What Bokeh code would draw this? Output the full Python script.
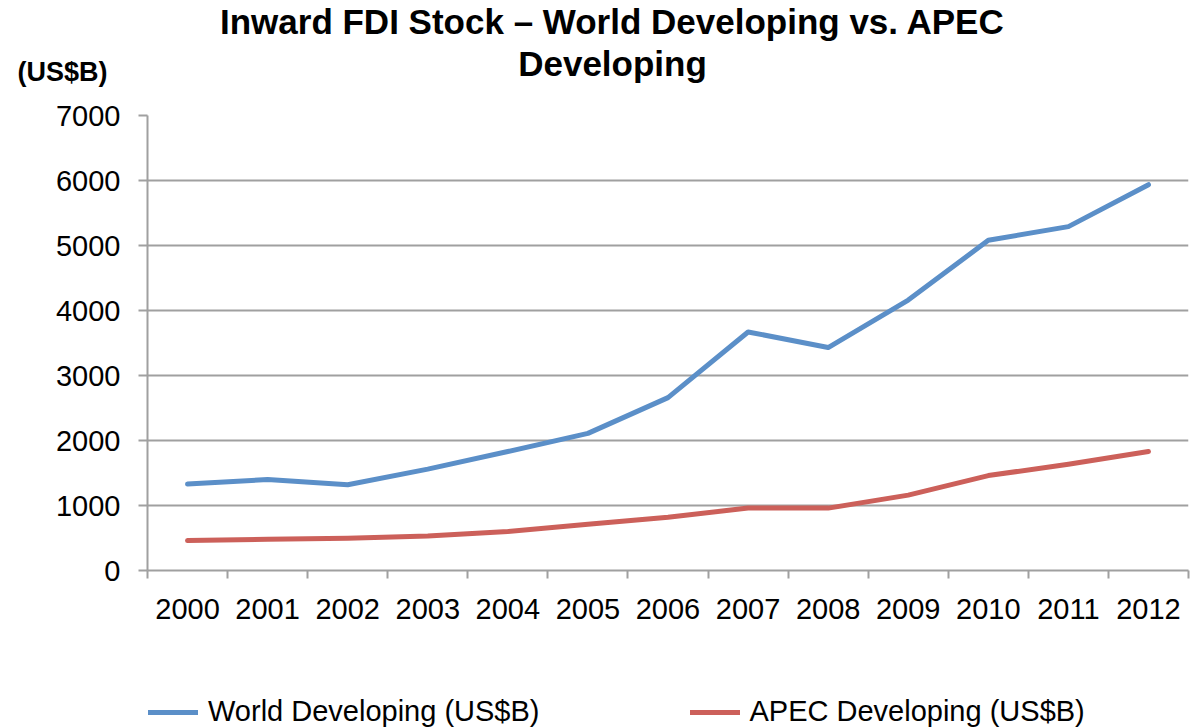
from bokeh.plotting import figure
from bokeh.layouts import column
from bokeh.models import Range1d, FixedTicker, Label, Legend, LegendItem, ColumnDataSource
from bokeh.embed import file_html
from bokeh.resources import INLINE

years = [2000, 2001, 2002, 2003, 2004, 2005, 2006, 2007, 2008, 2009, 2010, 2011, 2012]
world_developing = [1330, 1400, 1320, 1560, 1830, 2110, 2660, 3670, 3430, 4160, 5080, 5290, 5935]
apec_developing = [460, 480, 495, 530, 600, 710, 820, 960, 960, 1160, 1460, 1635, 1830]
y_ticks = [0, 1000, 2000, 3000, 4000, 5000, 6000, 7000]

title_lines = ["Inward FDI Stock \u2013 World Developing vs. APEC", "Developing"]
unit_label = "(US$B)"
series_names = ["World Developing (US$B)", "APEC Developing (US$B)"]
colors = ["#5B8FC8", "#CC605A"]

FONT = "Liberation Sans"
GRID = "#a0a0a0"
W = 1194
TOP_H, MAIN_H, BOT_H = 95, 588, 45


def blank(height, y_range):
    f = figure(width=W, height=height, x_range=Range1d(0, W), y_range=y_range,
               x_axis_type=None, y_axis_type=None, min_border=0,
               output_backend="svg", toolbar_location=None)
    f.frame_align = False
    f.outline_line_color = None
    f.grid.grid_line_color = None
    f.background_fill_color = "white"
    f.border_fill_color = "white"
    return f


# ---- title strip (y measured downward in pixels) ----
top = blank(TOP_H, Range1d(TOP_H, 0))
top.add_layout(Label(x=612, y=21, text=title_lines[0], text_align="center",
                     text_baseline="alphabetic", text_font=FONT, text_font_size="35px",
                     text_font_style="bold", text_color="black"))
top.add_layout(Label(x=612, y=63, text=title_lines[1], text_align="center",
                     text_baseline="alphabetic", text_font=FONT, text_font_size="35px",
                     text_font_style="bold", text_color="black"))
top.add_layout(Label(x=17, y=71, text=unit_label, text_align="left",
                     text_baseline="alphabetic", text_font=FONT, text_font_size="27px",
                     text_font_style="bold", text_color="black"))

# ---- main chart ----
xpos = [i + 0.5 for i in range(len(years))]
src = ColumnDataSource(dict(x=xpos, world=world_developing, apec=apec_developing))

p = figure(width=W, height=MAIN_H,
           x_range=Range1d(0, len(years)), y_range=Range1d(y_ticks[0], y_ticks[-1]),
           min_border_left=147, min_border_right=6, min_border_top=20, min_border_bottom=113,
           output_backend="svg", toolbar_location=None)
p.frame_align = False
p.outline_line_color = None
p.background_fill_color = "white"
p.border_fill_color = "white"

p.line("x", "world", source=src, line_color=colors[0], line_width=5,
       line_cap="round", line_join="round")
p.line("x", "apec", source=src, line_color=colors[1], line_width=5,
       line_cap="round", line_join="round")

xa = p.xaxis[0]
xa.ticker = FixedTicker(ticks=xpos, minor_ticks=list(range(len(years) + 1)))
xa.major_label_overrides = {x: str(y) for x, y in zip(xpos, years)}
xa.major_tick_out = 0
xa.major_tick_in = 0
xa.minor_tick_out = 8
xa.minor_tick_in = 0
xa.minor_tick_line_color = GRID
xa.minor_tick_line_width = 2
xa.axis_line_color = GRID
xa.axis_line_width = 2
xa.major_label_standoff = 20
xa.major_label_text_font = FONT
xa.major_label_text_font_size = "29px"
xa.major_label_text_color = "black"

ya = p.yaxis[0]
ya.ticker = FixedTicker(ticks=y_ticks, minor_ticks=[])
ya.major_tick_out = 9
ya.major_tick_in = 0
ya.major_tick_line_color = GRID
ya.major_tick_line_width = 2
ya.minor_tick_line_color = None
ya.axis_line_color = GRID
ya.axis_line_width = 2
ya.major_label_standoff = 18
ya.major_label_text_font = FONT
ya.major_label_text_font_size = "29px"
ya.major_label_text_color = "black"

p.xgrid.grid_line_color = None
p.ygrid.grid_line_color = GRID
p.ygrid.grid_line_width = 2

# ---- legend strip (key renderers are hidden; only their legend swatches show) ----
bot = blank(BOT_H, Range1d(0, BOT_H))
k1 = bot.line("x", "world", source=src, line_color=colors[0], line_width=5,
              line_cap="round", visible=False)
k2 = bot.line("x", "apec", source=src, line_color=colors[1], line_width=5,
              line_cap="round", visible=False)
legend = Legend(items=[LegendItem(label=series_names[0], renderers=[k1]),
                       LegendItem(label=series_names[1], renderers=[k2])],
                orientation="horizontal", location=(148, 0),
                glyph_width=50, glyph_height=30, label_standoff=10, spacing=150,
                padding=0, margin=0, border_line_color=None, background_fill_alpha=0,
                inactive_fill_alpha=0,
                label_text_font=FONT, label_text_font_size="29px", label_text_color="black",
                label_height=30)
bot.add_layout(legend)

layout = column(top, p, bot, spacing=0)
open("out.html", "w").write(file_html(layout, INLINE))
